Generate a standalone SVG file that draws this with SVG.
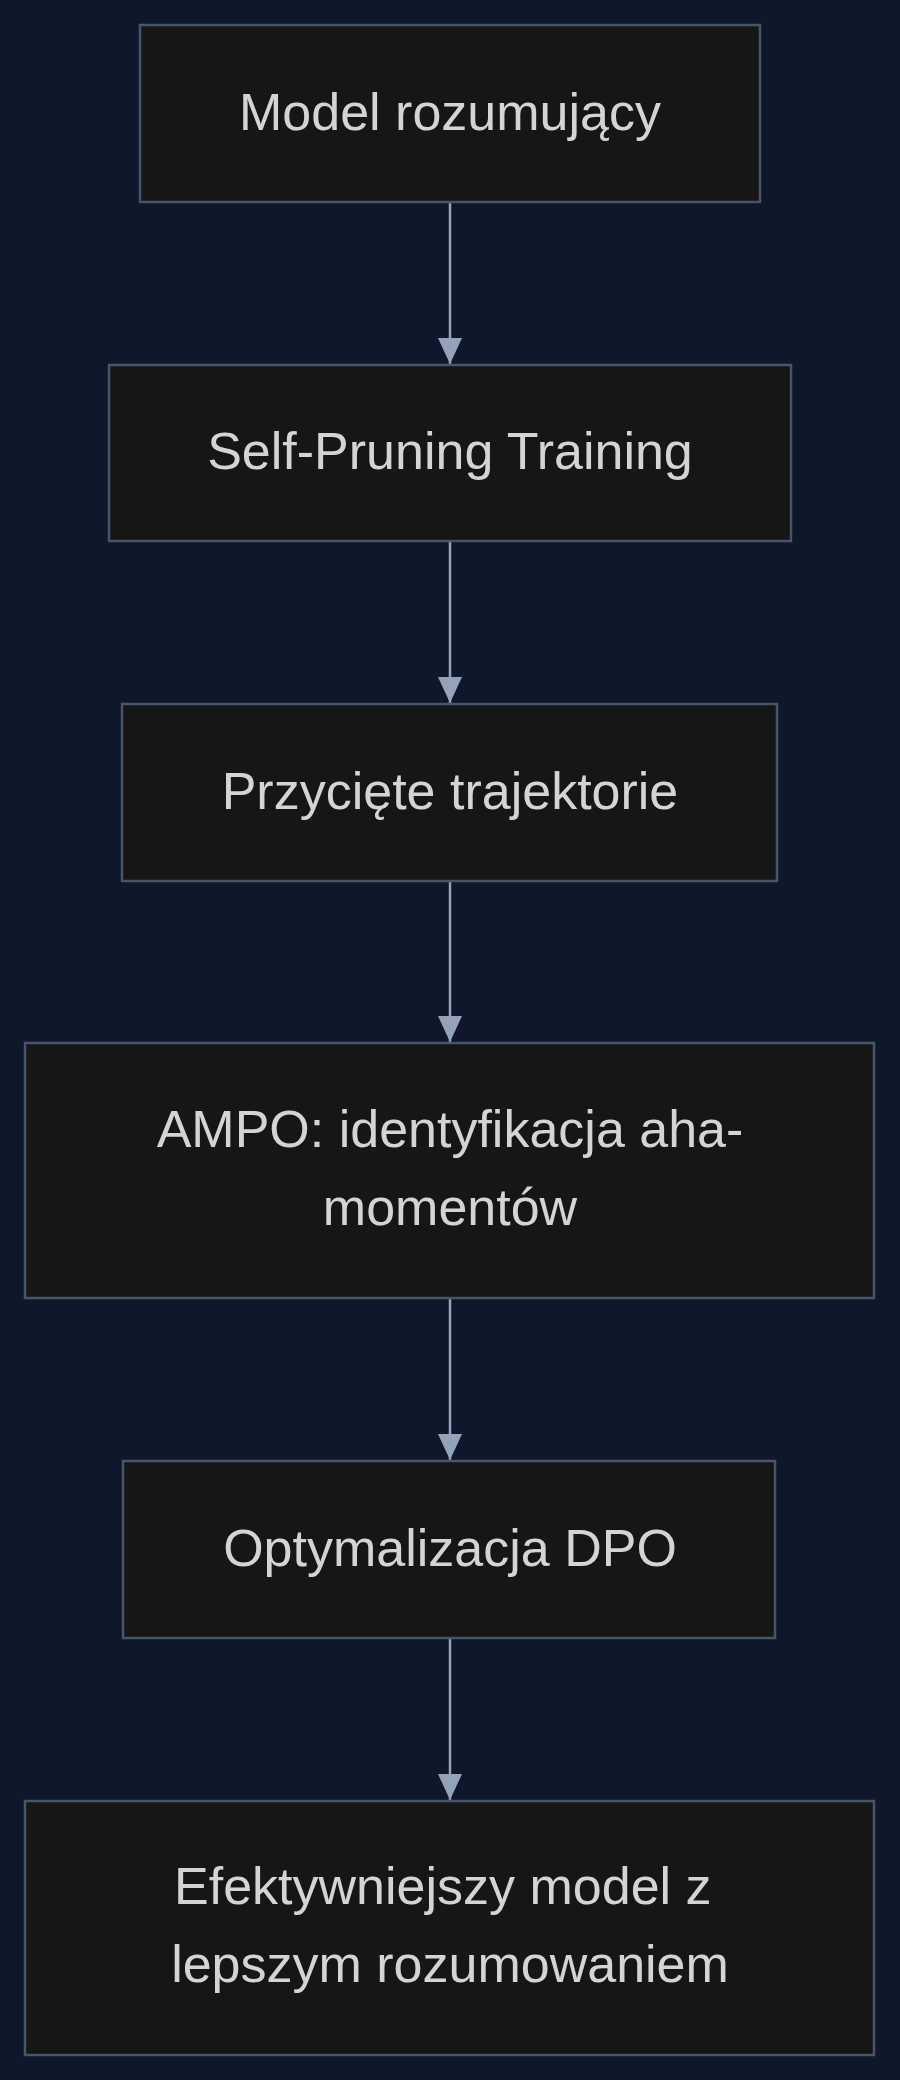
<svg xmlns="http://www.w3.org/2000/svg" width="900" height="2080" viewBox="0 0 900 2080">
<style>
.node rect{fill:#161616;stroke:#475569;stroke-width:2.5}
.node text{font-family:"Liberation Sans",Arial,sans-serif;font-size:52px;fill:#d4d4d4;text-anchor:middle}
.edge{stroke:#94a3b8;stroke-width:2.5;fill:none}
</style>
<defs>
<marker id="arr" markerUnits="userSpaceOnUse" markerWidth="26" markerHeight="24" refX="26" refY="12" orient="auto">
<path d="M0,0 L26,12 L0,24 Z" fill="#94a3b8"/>
</marker>
</defs>
<rect width="900" height="2080" fill="#0f172a"/>
<g id="edges">
<path class="edge" d="M450,202 V364" marker-end="url(#arr)"/>
<path class="edge" d="M450,541 V703" marker-end="url(#arr)"/>
<path class="edge" d="M450,881 V1042" marker-end="url(#arr)"/>
<path class="edge" d="M450,1298 V1460" marker-end="url(#arr)"/>
<path class="edge" d="M450,1638 V1800" marker-end="url(#arr)"/>
</g>
<g id="n1" class="node"><rect x="140" y="25" width="620" height="177"/><text x="450" y="129.5">Model rozumujący</text></g>
<g id="n2" class="node"><rect x="109" y="365" width="682" height="176"/><text x="450" y="469">Self-Pruning Training</text></g>
<g id="n3" class="node"><rect x="122" y="704" width="655" height="177"/><text x="450" y="808.5">Przycięte trajektorie</text></g>
<g id="n4" class="node"><rect x="25" y="1043" width="849" height="255"/><text x="450" y="1146.5">AMPO: identyfikacja aha-</text><text x="450" y="1224.5">momentów</text></g>
<g id="n5" class="node"><rect x="123" y="1461" width="652" height="177"/><text x="450" y="1565.5">Optymalizacja DPO</text></g>
<g id="n6" class="node"><rect x="25" y="1801" width="849" height="254"/><text x="442.8" y="1904">Efektywniejszy model z</text><text x="450" y="1982">lepszym rozumowaniem</text></g>
</svg>
